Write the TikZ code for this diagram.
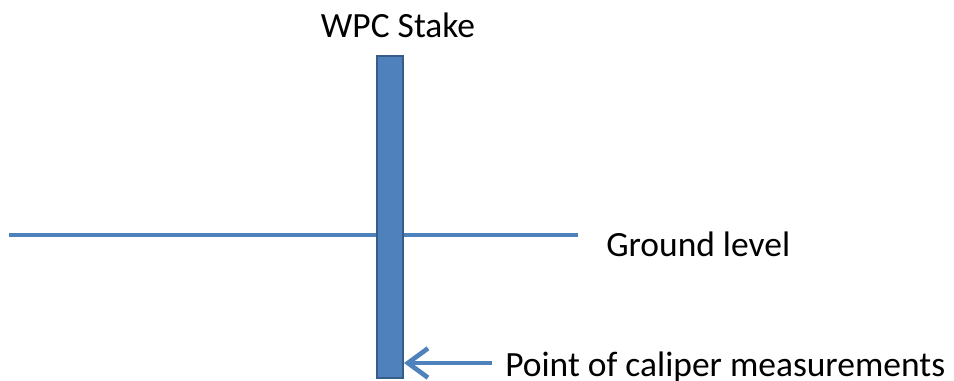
\documentclass[tikz,border=0pt]{standalone}
\usepackage{fontspec}
\setmainfont{Carlito}
\usetikzlibrary{arrows.meta}
\definecolor{stakeblue}{HTML}{4F81BD}
\definecolor{stakeedge}{HTML}{385D8A}

\begin{document}
\begin{tikzpicture}[x = 0.75pt, y = -0.75pt,
    textlabel/.style = {font = \fontsize{26.6}{30}\selectfont, inner sep = 0pt, anchor = base west},
    groundline/.style = {draw = stakeblue, line width = 3.5pt},
    pointer/.style = {draw = stakeblue, line width = 3.5pt, -{Straight Barb[length = 15pt, width = 22pt, line width = 3.5pt]}}]
      \useasboundingbox (0, 0) rectangle (954, 381);
      \coordinate (g-w) at (9, 235);
      \coordinate (g-e) at (578, 235);
      \draw[groundline] (g-w) -- (g-e);
      \node (stake) [draw = stakeedge, line width = 1.5pt, fill = stakeblue, inner sep = 0pt,
                     minimum width = 19.5pt, minimum height = 241.5pt, anchor = north west] at (376, 55) {};
      \node (title) [textlabel, anchor = base] at (398, 38) {WPC Stake};
      \node (ground) [textlabel] at (606, 257) {Ground level};
      \node (point) [textlabel] at (505, 376) {Point of caliper measurements};
      \coordinate (tail) at (492, 363);
      \draw[pointer] (tail) -- (tail -| stake.east);
    \end{tikzpicture}
\end{document}
